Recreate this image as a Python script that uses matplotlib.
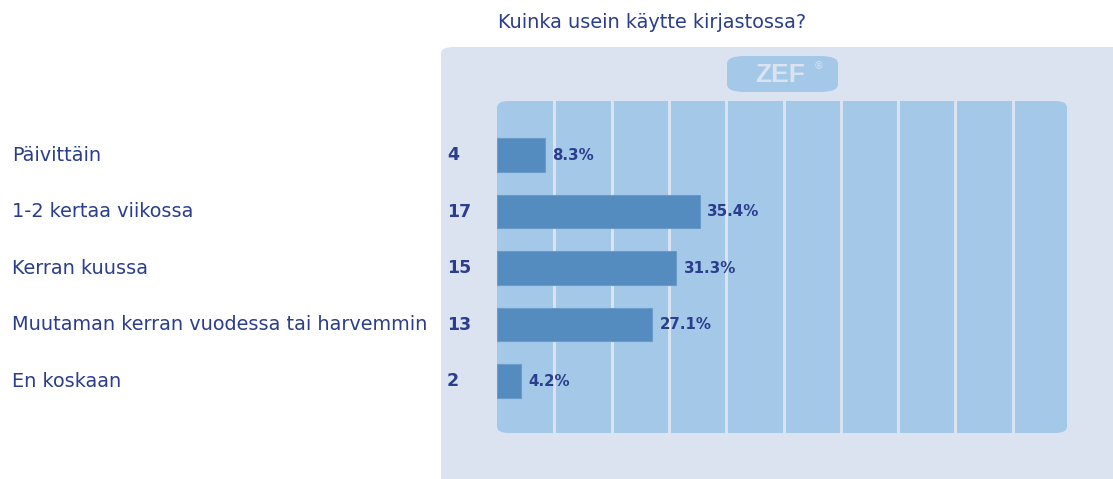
import matplotlib.pyplot as plt
from matplotlib.patches import FancyBboxPatch

# Data
categories = ["Päivittäin", "1-2 kertaa viikossa", "Kerran kuussa",
              "Muutaman kerran vuodessa tai harvemmin", "En koskaan"]
counts = [4, 17, 15, 13, 2]
percents = [8.3, 35.4, 31.3, 27.1, 4.2]
title = "Kuinka usein käytte kirjastossa?"

W, H = 1113, 479
TEXT = "#2b3d8e"
PANEL = "#dce3f0"
INNER = "#a4c8e8"
BAR = "#548cbf"

plt.rcParams['font.family'] = ['DejaVu Sans']

fig = plt.figure(figsize=(W / 100, H / 100), dpi=100)
fig.patch.set_facecolor("white")

# outer light panel (rounded top-left corner)
panel = FancyBboxPatch((441 / W, -0.1), 0.7, (479 - 47) / H + 0.1,
                       boxstyle="round,pad=0,rounding_size=0.012",
                       transform=fig.transFigure, facecolor=PANEL,
                       edgecolor="none", zorder=-2)
fig.patches.append(panel)

# ZEF logo pill
logo = FancyBboxPatch((727 / W, 1 - 92 / H), 111 / W, 36 / H,
                      boxstyle="round,pad=0,rounding_size=0.016",
                      transform=fig.transFigure, facecolor=INNER,
                      edgecolor="none", zorder=-1)
fig.patches.append(logo)
fig.text(780 / W, 1 - 75 / H, "ZEF", color=PANEL, fontsize=19, fontweight="bold",
         family="Liberation Sans", ha="center", va="center", zorder=2)
fig.text(819 / W, 1 - 66 / H, "®", color=PANEL, fontsize=7,
         ha="center", va="center", zorder=2)

fig.text(652 / W, 1 - 22 / H, title, color=TEXT, fontsize=13.9,
         ha="center", va="center")

ax = fig.add_axes([497 / W, 1 - 433 / H, 573 / W, 332 / H])
ax.set_zorder(1)
ax.set_facecolor("none")
ax.set_xlim(0, 100)
ax.set_ylim(4.92, -0.956)
for s in ax.spines.values():
    s.set_visible(False)
ax.set_xticks([])
ax.set_yticks([])

inner = FancyBboxPatch((0, 0), 570 / 573, 1,
                       boxstyle="round,pad=0,rounding_size=0.02",
                       transform=ax.transAxes, facecolor=INNER,
                       edgecolor="none", zorder=0, clip_on=False)
ax.add_patch(inner)
for gx in range(10, 100, 10):
    ax.axvline(gx, color=PANEL, lw=2.2, zorder=1)

y = list(range(len(categories)))
ax.barh(y, percents, height=0.6, color=BAR, edgecolor="#6b9bc8",
        linewidth=0.8, zorder=2)

for i, (cat, n, p) in enumerate(zip(categories, counts, percents)):
    ax.text(p + 1.3, i, f"{p:.1f}%", color=TEXT, fontsize=10.8,
            fontweight="bold", va="center", ha="left", zorder=3)
    ax.annotate(str(n), xy=(0, i), xycoords=("axes fraction", "data"),
                xytext=(-50, 0), textcoords="offset pixels",
                color=TEXT, fontsize=12.5, fontweight="bold",
                va="center", ha="left")
    ax.annotate(cat, xy=(0, i), xycoords=("axes fraction", "data"),
                xytext=(12 - 497, 0), textcoords="offset pixels",
                color=TEXT, fontsize=13.9, va="center", ha="left")

fig.savefig("out.png", dpi=100)
